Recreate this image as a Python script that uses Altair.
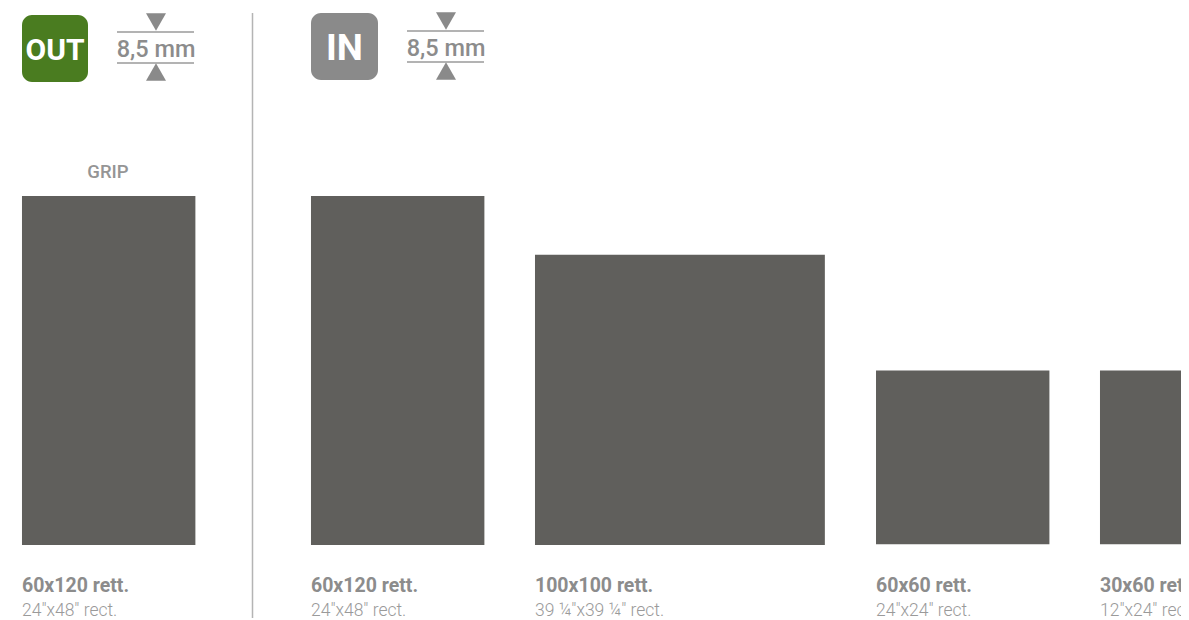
import altair as alt
import pandas as pd

# tile formats (cm)
names = ["60x120 rett.", "60x120 rett.", "100x100 rett.", "60x60 rett.", "30x60 rett."]
inches = ['24"x48" rect.', '24"x48" rect.', '39 ¼"x39 ¼" rect.', '24"x24" rect.', '12"x24" rect.']
start_cm = [4.84, 104.84, 182.35, 300.35, 377.85]
width_cm = [60, 60, 100.3, 60, 30]
height_cm = [120, 120, 99.8, 60, 60]
base_cm = [0, 0, 0, 0.3, 0.3]

W, H = 1173, 612
UX, UY = 2.89, 2.908
Y0 = 537  # chart pixel of the base line

df = pd.DataFrame({
    "name": names, "inch": inches, "x": start_cm,
    "x2": [s + w for s, w in zip(start_cm, width_cm)],
    "y": base_cm, "y2": height_cm,
})
xs = alt.Scale(domain=[0, W / UX], range=[0, W], nice=False, zero=False)
ys = alt.Scale(domain=[-(H - Y0) / UY, Y0 / UY], range=[H, 0], nice=False, zero=False)

tiles = alt.Chart(df).mark_rect(color="#605f5c", clip=True).encode(
    x=alt.X("x:Q", scale=xs, axis=None), x2="x2:Q",
    y=alt.Y("y:Q", scale=ys, axis=None), y2="y2:Q",
)
label = alt.Chart(df).mark_text(
    align="left", baseline="alphabetic", font="Roboto", fontWeight=700, fontSize=19.5,
    color="#8c8c8c", clip=True,
).encode(x=alt.X("x:Q", scale=xs, axis=None), y=alt.value(584), text="name:N")
sub = alt.Chart(df).mark_text(
    align="left", baseline="alphabetic", font="Roboto", fontWeight=300, fontSize=17.5,
    color="#9a9a9a", clip=True,
).encode(x=alt.X("x:Q", scale=xs, axis=None), y=alt.value(608), text="inch:N")

# header decoration, in image pixels minus page margin
M = 8
def box(x0, x1, y0, y1, color):
    return alt.Chart(pd.DataFrame({"a": [0]})).mark_rect(color=color, cornerRadius=10).encode(
        x=alt.value(x0 - M), x2=alt.value(x1 - M), y=alt.value(y0 - M), y2=alt.value(y1 - M))

def txt(s, x, y, size, weight, color, align="center"):
    return alt.Chart(pd.DataFrame({"t": [s]})).mark_text(
        font="Roboto", fontSize=size, fontWeight=weight, color=color, align=align, baseline="alphabetic",
    ).encode(x=alt.value(x - M), y=alt.value(y - M), text="t:N")

def rule(x0, x1, y0, y1, color, w):
    return alt.Chart(pd.DataFrame({"a": [0]})).mark_rule(color=color, strokeWidth=w).encode(
        x=alt.value(x0 - M), x2=alt.value(x1 - M), y=alt.value(y0 - M), y2=alt.value(y1 - M))

def tri(x, y, shape):
    return alt.Chart(pd.DataFrame({"a": [0]})).mark_point(
        shape=shape, filled=True, size=400, color="#8a8a8a", opacity=1,
    ).encode(x=alt.value(x - M), y=alt.value(y - M))

def thickness(cx, top):
    g = "#9a9a9a"
    return [
        tri(cx, top + 9, "triangle-down"), tri(cx, top + 59, "triangle-up"),
        rule(cx - 39, cx + 38, top + 19, top + 19, g, 1.5),
        rule(cx - 39, cx + 38, top + 50, top + 50, g, 1.5),
        txt("8,5 mm", cx, top + 44, 23.5, 500, "#8c8c8c"),
    ]

layers = [
    rule(252.5, 252.5, 13, 618, "#b4b4b4", 1.5),
    tiles, label, sub,
    box(22, 88, 15, 82, "#4a7c20"), txt("OUT", 55, 60, 30, 700, "#ffffff"),
    box(311, 378, 13, 80, "#8a8a8a"), txt("IN", 344.5, 60, 37, 700, "#ffffff"),
    txt("GRIP", 108, 178, 18.5, 500, "#959595"),
] + thickness(156, 13) + thickness(446, 12)

chart = alt.layer(*layers).properties(
    width=W, height=H, padding=0, autosize=alt.AutoSizeParams(type="none"),
).configure_view(stroke=None)

chart.save("out.html", embed_options={"renderer": "svg", "actions": False})
